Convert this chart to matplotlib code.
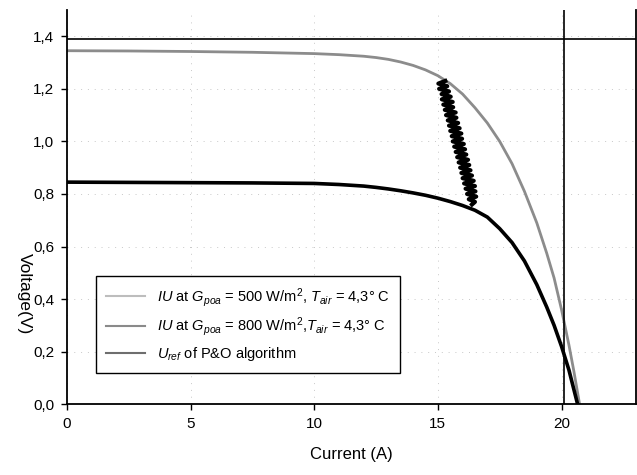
import numpy as np
from matplotlib import pyplot as plt
from matplotlib.ticker import FuncFormatter

plt.rcParams['font.family'] = ['Liberation Sans', 'DejaVu Sans']
plt.rcParams['mathtext.fontset'] = 'custom'
plt.rcParams['mathtext.rm'] = 'Liberation Sans'
plt.rcParams['mathtext.it'] = 'Liberation Sans:italic'

# IU curve, upper (grey)
i_500 = [0, 2.5, 5, 7.5, 10, 11, 12, 12.5, 13, 13.5, 14, 14.5, 15, 15.5, 16, 16.5,
         17, 17.5, 18, 18.5, 19, 19.4, 19.7, 20.0, 20.3, 20.5, 20.73]
u_500 = [1.345, 1.344, 1.342, 1.339, 1.334, 1.330, 1.324, 1.319, 1.312, 1.302, 1.289,
         1.272, 1.250, 1.220, 1.180, 1.128, 1.070, 1.000, 0.915, 0.810, 0.690, 0.575,
         0.480, 0.360, 0.225, 0.125, 0.0]

# IU curve, lower (black)
i_800 = [0, 2.5, 5, 7.5, 10, 11, 12, 12.5, 13, 13.5, 14, 14.5, 15, 15.5, 16, 16.5,
         17, 17.5, 18, 18.5, 19, 19.4, 19.7, 20.0, 20.3, 20.65]
u_800 = [0.845, 0.844, 0.843, 0.842, 0.840, 0.836, 0.830, 0.825, 0.819, 0.812, 0.804,
         0.795, 0.784, 0.771, 0.756, 0.738, 0.712, 0.668, 0.615, 0.545, 0.455, 0.370,
         0.300, 0.220, 0.130, 0.0]

# U_ref of the P&O tracker
i_ref = [15.30, 15.02, 15.38, 15.05, 15.45, 15.15, 15.52, 15.16, 15.60, 15.22, 15.62, 15.28,
         15.72, 15.33, 15.75, 15.40, 15.82, 15.45, 15.88, 15.50, 15.95, 15.56, 15.98, 15.60,
         16.05, 15.66, 16.10, 15.72, 16.15, 15.78, 16.22, 15.84, 16.27, 15.90, 16.32, 15.95,
         16.38, 16.00, 16.45, 16.06, 16.50, 16.12, 16.52, 16.18, 16.55, 16.25, 16.50, 16.38]
u_ref = [1.23, 1.22, 1.21, 1.20, 1.19, 1.18, 1.17, 1.16, 1.15, 1.14, 1.13, 1.12,
         1.11, 1.10, 1.09, 1.08, 1.07, 1.06, 1.05, 1.04, 1.03, 1.02, 1.01, 1.00,
         0.99, 0.98, 0.97, 0.96, 0.95, 0.94, 0.93, 0.92, 0.91, 0.90, 0.89, 0.88,
         0.87, 0.86, 0.85, 0.84, 0.83, 0.82, 0.81, 0.80, 0.79, 0.78, 0.77, 0.76]

u_line = 1.39
i_line = 20.1

labels = [r'$\mathit{IU}$ at $G_{poa}$ = 500 W/m$^2$, $T_{air}$ = 4,3° C',
          r'$\mathit{IU}$ at $G_{poa}$ = 800 W/m$^2$,$T_{air}$ = 4,3° C',
          r'$U_{ref}$ of P&O algorithm']

fig = plt.figure(figsize=(6.37, 4.75), dpi=100)
ax = fig.add_axes([0.105, 0.149, 0.893, 0.830])

ax.plot(i_500, u_500, color='#8c8c8c', lw=2.0, label=labels[0])
ax.plot(i_800, u_800, color='black', lw=2.6, label=labels[1])
ax.plot(i_ref, u_ref, color='black', lw=3.0, solid_joinstyle='round', label=labels[2])
ax.axhline(u_line, color='black', lw=1.2)
ax.axvline(i_line, color='black', lw=1.2)

ax.set_xlim(0, 23)
ax.set_ylim(0, 1.5)
ax.set_xticks([0, 5, 10, 15, 20])
ax.set_yticks(np.arange(0, 1.41, 0.2))
ax.yaxis.set_major_formatter(FuncFormatter(lambda v, p: ('%.1f' % v).replace('.', ',')))
ax.tick_params(direction='out', length=4, width=1, labelsize=11, pad=5)
ax.grid(color='#c8c8c8', linestyle=(0, (1, 6)), lw=0.7)
ax.spines['top'].set_visible(False)
for s in ['left', 'bottom', 'right']:
    ax.spines[s].set_linewidth(1.3)

ax.set_xlabel('Current (A)', fontsize=12, labelpad=12)
ax.set_ylabel('Voltage(V)', fontsize=12.5, rotation=270)
ax.yaxis.set_label_coords(-0.088, 0.28)

leg = ax.legend(loc='lower left', bbox_to_anchor=(0.051, 0.079), borderaxespad=0,
                fontsize=10.5, fancybox=False, edgecolor='black', framealpha=1,
                handlelength=2.7, labelspacing=0.45, borderpad=0.7)
leg.get_frame().set_linewidth(1.0)
for h, c in zip(leg.get_lines(), ['#bdbdbd', '#8a8a8a', '#6e6e6e']):
    h.set_color(c)
    h.set_linewidth(1.5)

plt.savefig('out.png', dpi=100)
